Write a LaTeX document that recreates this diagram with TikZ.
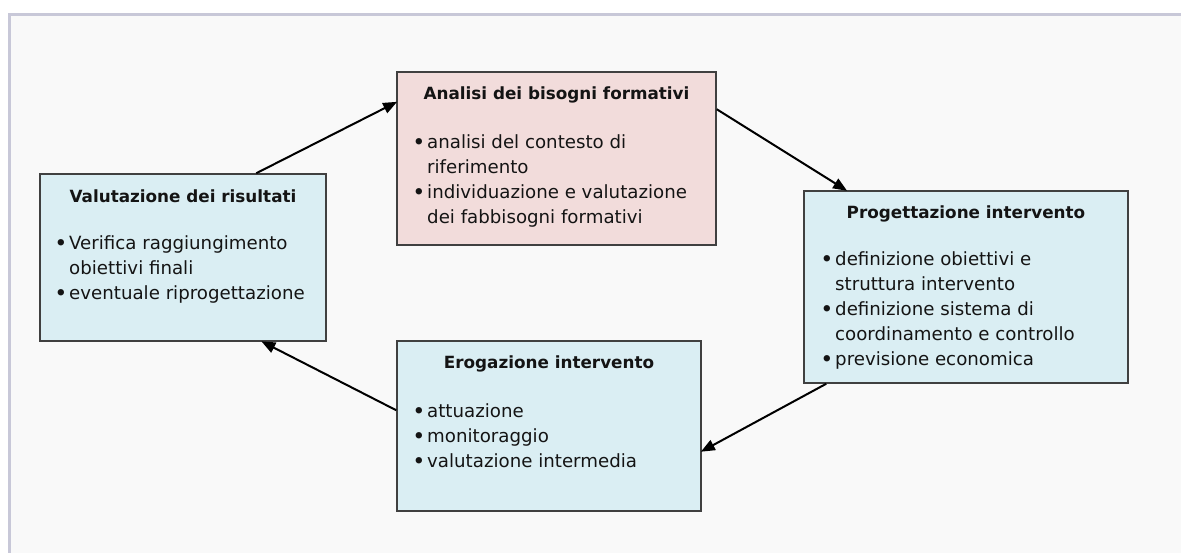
\documentclass[tikz,border=0pt]{standalone}
\usepackage{fontspec}
\setmainfont{DejaVu Sans}
\usetikzlibrary{arrows.meta,calc}
\definecolor{framec}{HTML}{C8C8D8}
\definecolor{bgc}{HTML}{F9F9F9}
\definecolor{pinkc}{HTML}{F2DCDB}
\definecolor{bluec}{HTML}{DAEEF3}
\definecolor{edgec}{HTML}{404040}
\definecolor{txtc}{HTML}{141414}
\newcommand\bul{\llap{{\bfseries•}\kern2.5pt}}
\tikzset{
  stagebox/.style={draw=edgec, line width=1.5pt, inner sep=0pt},
  titletext/.style={anchor=base, font=\fontsize{16.8}{25}\selectfont\bfseries, text=txtc, inner sep=0pt},
  listtext/.style={anchor=base west, align=left, font=\fontsize{18.2}{25}\selectfont, text=txtc, inner sep=0pt},
  flow/.style={line width=2pt, draw=black, -{Triangle[length=14pt,width=11pt]}, shorten >=-1pt}
}
\begin{document}
\begin{tikzpicture}[x=1pt,y=-1pt]
\useasboundingbox (0,0) rectangle (1181,552);
\clip (0,0) rectangle (1181,552);
\fill[white] (0,0) rectangle (1181,552);
\fill[bgc] (9.5,14.5) rectangle (1190,560);
\draw[framec, line width=3pt] (9.5,560) -- (9.5,14.5) -- (1190,14.5);

\node[stagebox, fill=pinkc, minimum width=319pt, minimum height=173pt] (A) at (556.5,158.5) {};
\node[stagebox, fill=bluec, minimum width=286pt, minimum height=167pt] (V) at (183,257.5) {};
\node[stagebox, fill=bluec, minimum width=324pt, minimum height=192pt] (P) at (966,287) {};
\node[stagebox, fill=bluec, minimum width=304pt, minimum height=170pt] (E) at (549,426) {};

% list nodes: anchored at the baseline of their LAST line
\node[titletext] (At) at (556.5,99) {Analisi dei bisogni formativi};
\node[listtext] (Al) at (427,223) {\bul analisi del contesto di\\riferimento\\\bul individuazione e valutazione\\dei fabbisogni formativi};

\node[titletext] (Vt) at (183,202) {Valutazione dei risultati};
\node[listtext] (Vl) at (69,299) {\bul Verifica raggiungimento\\obiettivi finali\\\bul eventuale riprogettazione};

\node[titletext] (Pt) at (966,218) {Progettazione intervento};
\node[listtext] (Pl) at (835,365) {\bul definizione obiettivi e\\struttura intervento\\\bul definizione sistema di\\coordinamento e controllo\\\bul previsione economica};

\node[titletext] (Et) at (549,368) {Erogazione intervento};
\node[listtext] (El) at (427,467) {\bul attuazione\\\bul monitoraggio\\\bul valutazione intermedia};

\draw[flow] ($(V.north west)+(217,0)$) -- ($(A.north west)+(0,31)$);
\draw[flow] ($(A.north east)+(0,38)$) -- ($(P.north west)+(43,0)$);
\draw[flow] ($(P.south west)+(23,0)$) -- ($(E.north east)+(0,111)$);
\draw[flow] ($(E.north west)+(0,70)$) -- ($(V.south west)+(223,0)$);
\end{tikzpicture}
\end{document}
